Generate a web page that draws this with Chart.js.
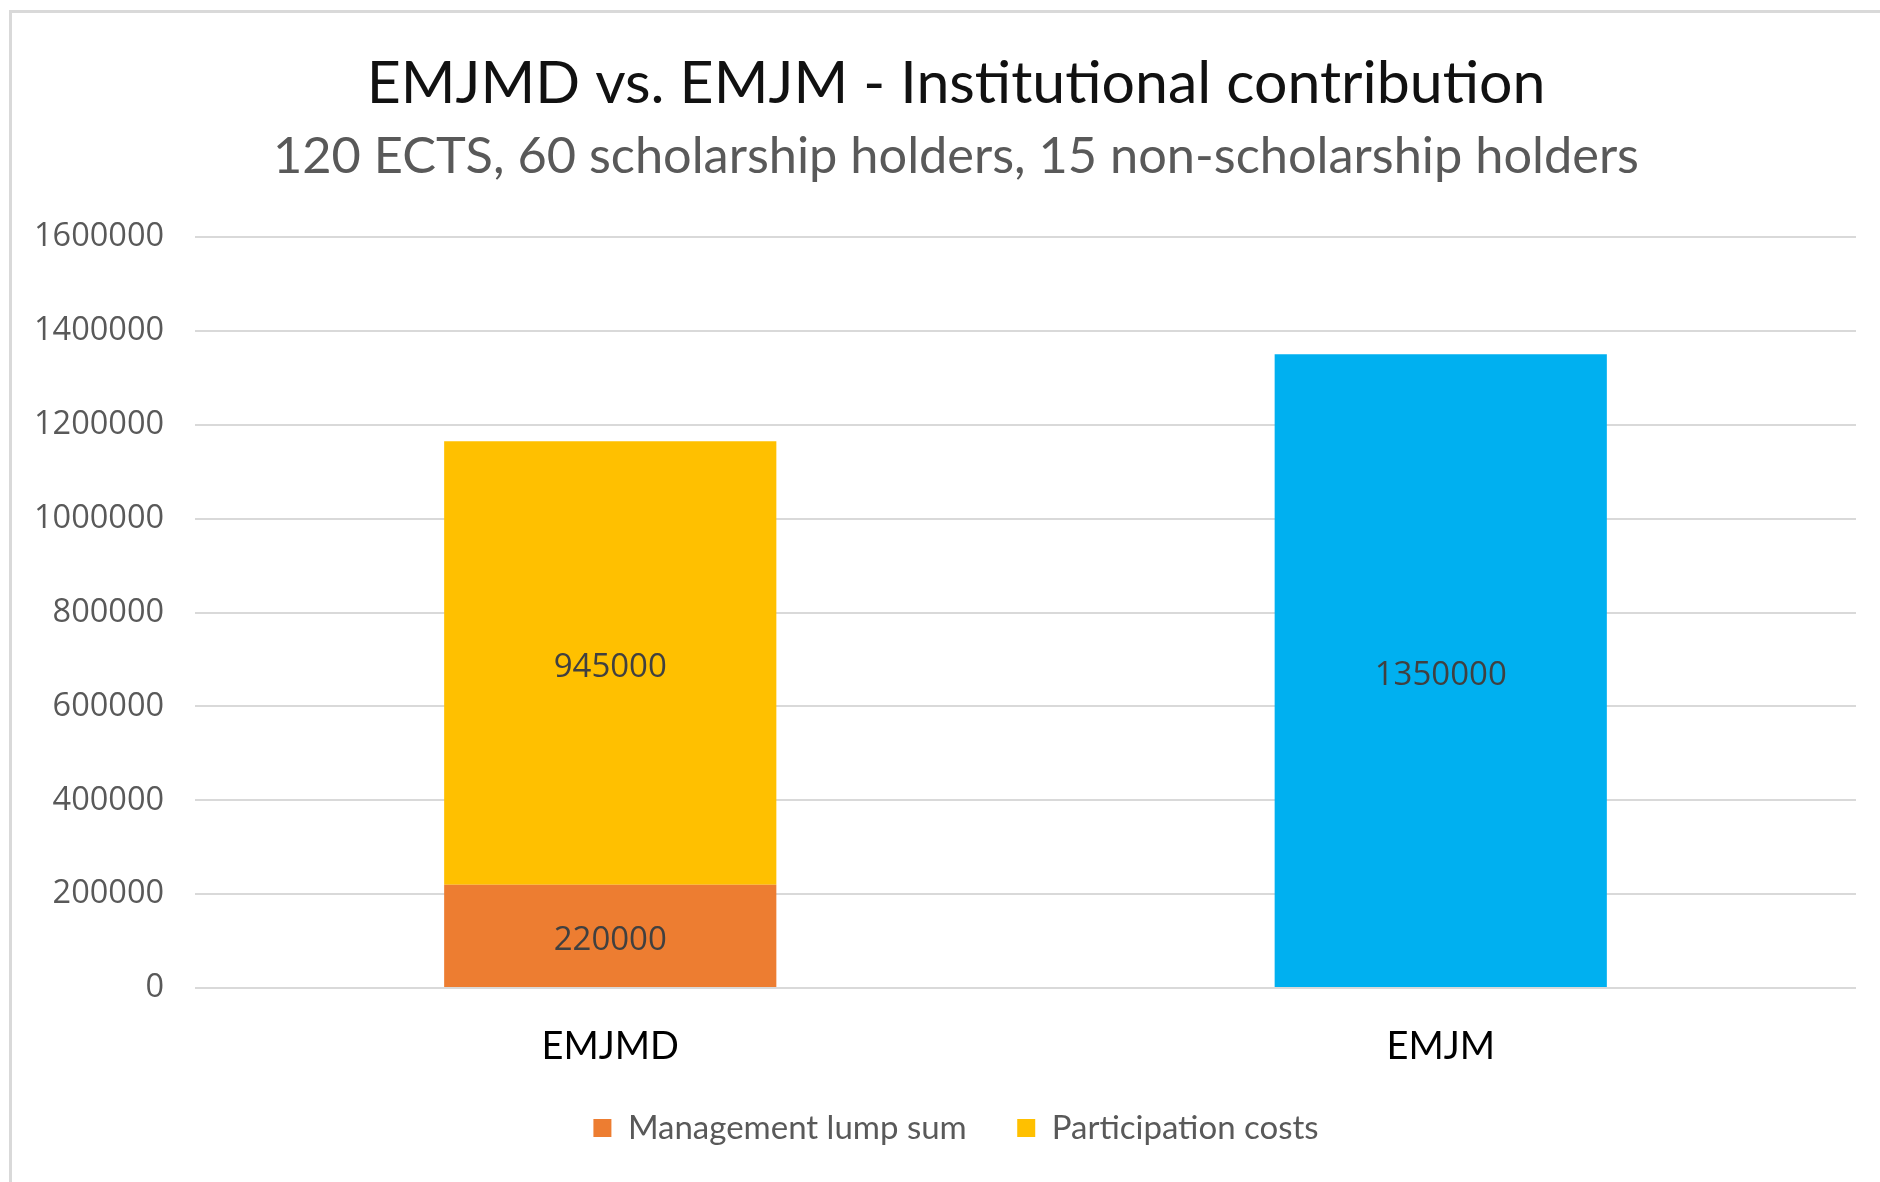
<!DOCTYPE html>
<html>
<head>
<meta charset="utf-8">
<script src="https://cdn.jsdelivr.net/npm/chart.js@4.4.0/dist/chart.umd.min.js"></script>
<style>
  html, body { margin: 0; padding: 0; background: #fff; }
  #wrap { position: relative; width: 1880px; height: 1182px; overflow: hidden; }
  #frame { position: absolute; left: 9px; top: 10px; width: 1900px; height: 1200px;
           border-left: 3px solid #d9d9d9; border-top: 3px solid #d9d9d9; }
  #chart { position: absolute; left: 0; top: 0; }
</style>
</head>
<body>
<div id="wrap">
  <div id="frame"></div>
  <canvas id="chart" width="1880" height="1182"></canvas>
</div>
<script>
// --- data ---
const categories = ['EMJMD', 'EMJM'];
const managementLumpSum = [220000, null];
const participationCosts = [945000, null];
const emjmContribution = [null, 1350000];
const yTickValues = [0, 200000, 400000, 600000, 800000, 1000000, 1200000, 1400000, 1600000];

const titleText = 'EMJMD vs. EMJM - Institutional contribution';
const subtitleText = '120 ECTS, 60 scholarship holders, 15 non-scholarship holders';

// draws the value in the middle of every bar segment
const barValueLabels = {
    id: 'barValueLabels',
    afterDatasetsDraw(chart) {
        const ctx = chart.ctx;
        ctx.save();
        ctx.font = '33px "Open Sans"';
        ctx.fillStyle = '#404040';
        ctx.textAlign = 'center';
        ctx.textBaseline = 'middle';
        chart.data.datasets.forEach((ds, i) => {
            chart.getDatasetMeta(i).data.forEach((bar, j) => {
                const v = ds.data[j];
                if (v === null || v === undefined) return;
                const p = bar.getCenterPoint();
                ctx.fillText(String(v), p.x, p.y + 5);
            });
        });
        ctx.restore();
    }
};

new Chart(document.getElementById('chart').getContext('2d'), {
    type: 'bar',
    data: {
        labels: categories,
        datasets: [
            { label: 'Management lump sum', data: managementLumpSum, backgroundColor: '#ED7D31' },
            { label: 'Participation costs', data: participationCosts, backgroundColor: '#FFC000' },
            { label: 'EMJM', data: emjmContribution, backgroundColor: '#00B0F0' }
        ]
    },
    options: {
        responsive: false,
        devicePixelRatio: 1,
        animation: false,
        categoryPercentage: 0.4,
        barPercentage: 1.0,
        layout: { padding: { left: 56, right: 24, top: 0, bottom: 27.5 } },
        plugins: {
            title: {
                display: true,
                text: titleText,
                color: '#111111',
                font: { family: 'Lato', size: 59, weight: 'normal', lineHeight: 1.2 },
                padding: { top: 48.6, bottom: 0 }
            },
            subtitle: {
                display: true,
                text: subtitleText,
                color: '#595959',
                font: { family: 'Lato', size: 50.5, weight: 'normal', lineHeight: 1.2 },
                padding: { top: 7.3, bottom: 49.7 }
            },
            legend: {
                position: 'bottom',
                labels: {
                    filter: item => item.datasetIndex < 2,
                    boxWidth: 18,
                    boxHeight: 18,
                    padding: 50.5,
                    color: '#595959',
                    font: { family: 'Lato', size: 33 }
                }
            },
            tooltip: { enabled: false }
        },
        scales: {
            x: {
                stacked: true,
                grid: { display: false, drawTicks: false },
                border: { display: false },
                ticks: { color: '#000000', padding: 39.4, font: { family: 'Lato', size: 38, lineHeight: 1.0 } },
                afterFit: scale => { scale.height = 73; }
            },
            y: {
                stacked: true,
                min: 0,
                max: 1600000,
                afterBuildTicks: scale => { scale.ticks = yTickValues.map(v => ({ value: v })); },
                grid: { color: '#d9d9d9', lineWidth: 2, drawTicks: false },
                border: { display: false },
                ticks: {
                    color: '#595959',
                    mirror: true,
                    crossAlign: 'far',
                    padding: -161,
                    font: { family: 'Open Sans', size: 32.5 },
                    callback: v => String(v)
                },
                afterFit: scale => { scale.width = 139; }
            }
        }
    },
    plugins: [barValueLabels]
});
</script>
</body>
</html>
